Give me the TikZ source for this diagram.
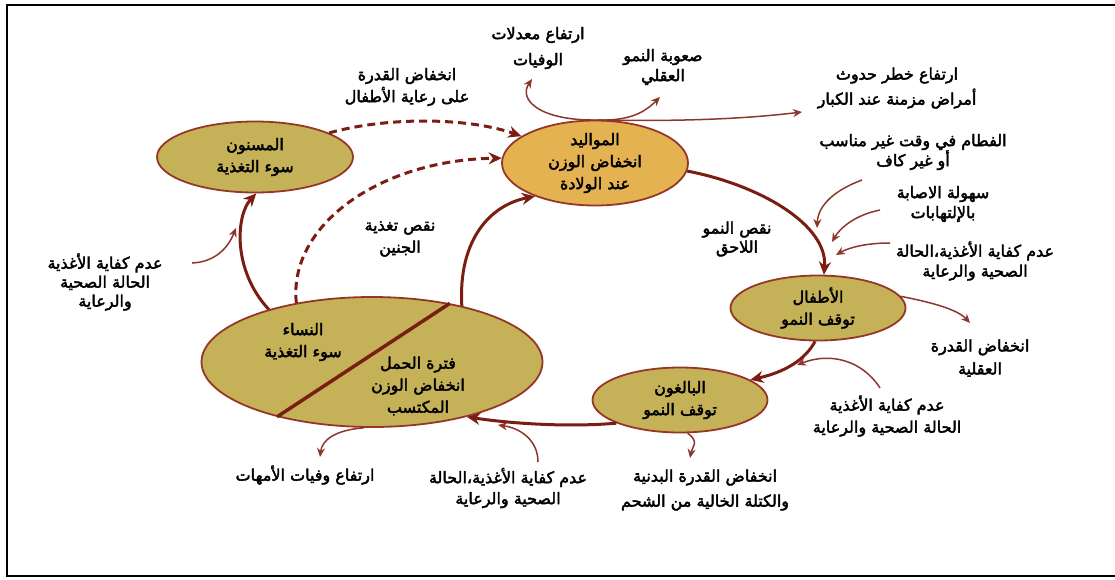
\documentclass[tikz,border=0pt]{standalone}
\usepackage{fontspec}
\newfontfamily\arabicfont[Script=Arabic,FakeBold=2.5]{DejaVu Sans}
\TeXXeTstate=1
\usetikzlibrary{shapes.geometric,arrows.meta}
\newcommand\artxt[1]{\beginR #1\endR}
\definecolor{olivefill}{RGB}{197,178,88}
\definecolor{goldfill}{RGB}{228,178,80}
\definecolor{edgec}{RGB}{150,55,38}
\definecolor{arrc}{RGB}{122,30,20}
\definecolor{thinc}{RGB}{140,55,45}
\begin{document}
\begin{tikzpicture}[x=1pt,y=-1pt,
  txt/.style={font=\arabicfont\fontsize{16}{22}\selectfont, align=center, inner sep=0pt, text=black},
  stage/.style={ellipse, draw=edgec, line width=1.8pt, fill=olivefill, inner sep=0pt, txt},
  bigarrow/.style={draw=arrc, line width=3pt, -{Stealth[length=13pt,width=12pt]}},
  dasharrow/.style={bigarrow, dash pattern=on 8pt off 5pt},
  thinarrow/.style={draw=thinc, line width=1.5pt, -{Stealth[length=9pt,width=8pt]}}
]
\useasboundingbox (0,0) rectangle (1115,579);
\draw[line width=2.5pt, black] (1115,5) -- (7,5) -- (7,576) -- (1115,576);

% stages
\node[stage, minimum width=196pt, minimum height=71pt] (eld) at (255,157) {\artxt{المسنون}\\\artxt{سوء التغذية}};
\node[stage, fill=goldfill, minimum width=186pt, minimum height=85pt] (nb) at (595,163) {\artxt{المواليد}\\\artxt{انخفاض الوزن}\\\artxt{عند الولادة}};
\node[stage, minimum width=175pt, minimum height=65pt] (ch) at (818,308) {\artxt{الأطفال}\\\artxt{توقف النمو}};
\node[stage, minimum width=175pt, minimum height=65pt] (ad) at (680,400) {\artxt{البالغون}\\\artxt{توقف النمو}};
\node[stage, minimum width=341pt, minimum height=130pt] (wo) at (372,362) {};
\draw[draw=arrc, line width=3.5pt] (wo.210) -- (wo.37);
\node[txt] (woa) at (303,342) {\artxt{النساء}\\\artxt{سوء التغذية}};
\node[txt] (wob) at (418,386) {\artxt{فترة الحمل}\\\artxt{انخفاض الوزن}\\\artxt{المكتسب}};

% labels
\node[txt] (l1) at (407,87) {\artxt{انخفاض القدرة}\\\artxt{على رعاية الأطفال}};
\node[txt, font=\arabicfont\fontsize{16}{26}\selectfont] (l2) at (538,48) {\artxt{ارتفاع معدلات}\\\artxt{الوفيات}};
\node[txt, font=\arabicfont\fontsize{16}{20}\selectfont] (l3) at (663,67) {\artxt{صعوبة النمو}\\\artxt{العقلي}};
\node[txt, font=\arabicfont\fontsize{16}{25}\selectfont] (l4) at (897,88) {\artxt{ارتفاع خطر حدوث}\\\artxt{أمراض مزمنة عند الكبار}};
\node[txt, font=\arabicfont\fontsize{16}{20}\selectfont] (l5) at (913,152) {\artxt{الفطام في وقت غير مناسب}\\\artxt{أو غير كاف}};
\node[txt, font=\arabicfont\fontsize{16}{20}\selectfont] (l6) at (943,204) {\artxt{سهولة الاصابة}\\\artxt{بالإلتهابات}};
\node[txt, font=\arabicfont\fontsize{16}{20}\selectfont] (l7) at (975,261) {\artxt{عدم كفاية الأغذية،الحالة}\\\artxt{الصحية والرعاية}};
\node[txt, font=\arabicfont\fontsize{16}{23}\selectfont] (l8) at (980,358) {\artxt{انخفاض القدرة}\\\artxt{العقلية}};
\node[txt] (l9) at (887,416) {\artxt{عدم كفاية الأغذية}\\\artxt{الحالة الصحية والرعاية}};
\node[txt, font=\arabicfont\fontsize{16}{25}\selectfont] (l10) at (705,490) {\artxt{انخفاض القدرة البدنية}\\\artxt{والكتلة الخالية من الشحم}};
\node[txt, font=\arabicfont\fontsize{16}{21}\selectfont] (l11) at (508,488) {\artxt{عدم كفاية الأغذية،الحالة}\\\artxt{الصحية والرعاية}};
\node[txt] (l12) at (305,475) {\artxt{ارتفاع وفيات الأمهات}};
\node[txt, font=\arabicfont\fontsize{16}{19}\selectfont] (l13) at (105,282) {\artxt{عدم كفاية الأغذية}\\\artxt{الحالة الصحية}\\\artxt{والرعاية}};
\node[txt] (l14) at (400,239) {\artxt{نقص تغذية}\\\artxt{الجنين}};
\node[txt, font=\arabicfont\fontsize{16}{19}\selectfont] (l15) at (737,239) {\artxt{نقص النمو}\\\artxt{اللاحق}};

% main cycle
\draw[dasharrow] (eld.18) .. controls (390,116) and (470,118) .. (nb.160);
\draw[dasharrow] (wo.142) .. controls (288,225) and (380,160) .. (nb.177);
\draw[bigarrow] (wo.32) .. controls (458,240) and (490,205) .. (nb.209);
\draw[bigarrow] (wo.153) .. controls (232,270) and (236,215) .. (eld.272);
\draw[bigarrow] (nb.355) .. controls (760,185) and (828,225) .. (ch.80);
\draw[bigarrow] (ch.265) .. controls (805,360) and (785,372) .. (ad.16);
\draw[bigarrow] (ad.200) .. controls (560,428) and (500,422) .. (wo.330);

% thin influence arrows
\coordinate (hub) at (598,120);
\coordinate (t1) at (532,79);
\coordinate (t2) at (660,97);
\coordinate (t3) at (802,112);
\draw[thinarrow] (hub) .. controls (540,121) and (518,100) .. (t1);
\draw[thinarrow] (hub) .. controls (630,121) and (645,112) .. (t2);
\draw[thinarrow] (hub) .. controls (700,122) and (760,117) .. (t3);

\coordinate (s4) at (862,180); \coordinate (e4) at (817,228);
\coordinate (s5) at (880,210); \coordinate (e5) at (832,242);
\coordinate (s6) at (890,243); \coordinate (e6) at (836,255);
\draw[thinarrow] (s4) .. controls (835,190) and (818,205) .. (e4);
\draw[thinarrow] (s5) .. controls (855,215) and (840,228) .. (e5);
\draw[thinarrow] (s6) .. controls (865,243) and (848,248) .. (e6);

\coordinate (e7) at (970,323);
\draw[thinarrow] (ch.8) .. controls (935,303) and (958,310) .. (e7);
\coordinate (s8) at (880,388); \coordinate (e8) at (797,365);
\draw[thinarrow] (s8) .. controls (862,360) and (830,352) .. (e8);
\coordinate (e9) at (690,458);
\draw[thinarrow] (ad.283) .. controls (700,442) and (692,447) .. (e9);
\coordinate (s10) at (538,462); \coordinate (e10) at (498,425);
\draw[thinarrow] (s10) .. controls (538,440) and (520,428) .. (e10);
\coordinate (e11) at (320,457);
\draw[thinarrow] (wo.263) .. controls (335,430) and (322,440) .. (e11);
\coordinate (s12) at (192,263); \coordinate (e12) at (236,228);
\draw[thinarrow] (s12) .. controls (215,262) and (228,248) .. (e12);
\end{tikzpicture}
\end{document}
